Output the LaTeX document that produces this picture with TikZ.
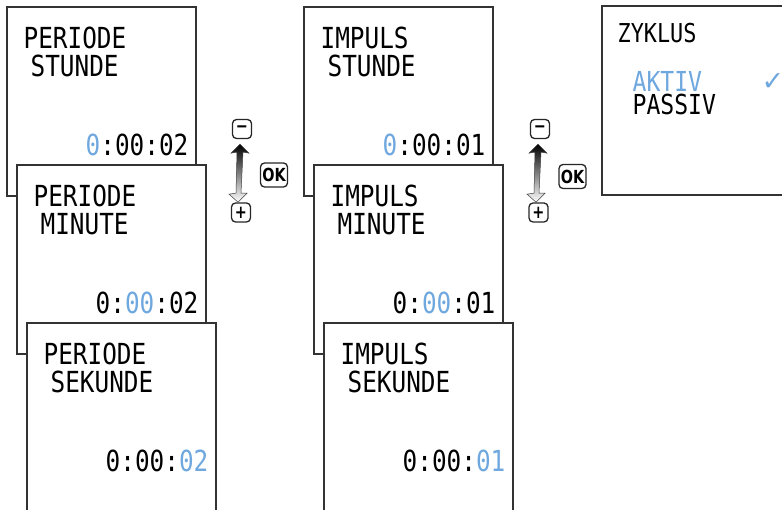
\documentclass[tikz,border=0pt]{standalone}
\usepackage{fontspec}
\usepackage{tikz}
\usetikzlibrary{positioning,calc}
\newfontfamily\lcdfont{DejaVu Sans Mono}[FakeStretch=0.84]
\newfontfamily\keyfont{DejaVu Sans}[FakeStretch=0.8]
\newfontfamily\symfont{DejaVu Sans}
\newcommand\lcdtext{\lcdfont\fontsize{29}{29}\selectfont}
\definecolor{lcdblue}{RGB}{111,168,222}
\tikzset{display/.style={draw=black!80,line width=1.2pt,fill=white,minimum width=189pt,minimum height=189pt,inner sep=0pt}}

\begin{document}
\begin{tikzpicture}[x=1pt,y=-1pt,node distance=158pt]

      \tikzstyle{headline}=[anchor=base west,inner sep=0pt,xshift=17pt,yshift=-42pt,font=\lcdtext]
      \tikzstyle{unitline}=[anchor=base west,inner sep=0pt,xshift=24pt,yshift=-70pt,font=\lcdtext]
      \tikzstyle{readout}=[anchor=base east,inner sep=0pt,xshift=-8pt,yshift=-149pt,font=\lcdtext]
      \tikzstyle{choice}=[anchor=base west,inner sep=0pt,xshift=31pt,text height=20pt,text depth=0pt,
      		  font=\lcdfont\fontsize{27.5}{27.5}\selectfont]
      \tikzstyle{key}=[draw=black!85,line width=1.3pt,rounded corners=4pt,fill=white,
      		  minimum width=19pt,minimum height=19pt,inner sep=0pt,font=\keyfont\bfseries\fontsize{18}{18}\selectfont]
      \tikzstyle{okkey}=[key,minimum width=27pt,minimum height=24pt,font=\keyfont\bfseries\fontsize{18}{18}\selectfont]
      \tikzstyle{updown}=[top color=black,bottom color=white,draw=black!75,line width=0.5pt]

      \useasboundingbox (0,0) rectangle (782,510);

      %PERIODE screens
      \node [display] (p1) at (101.5,101.5) {};
      \node [headline] (p1a) at (p1.north west) {PERIODE};
      \node [unitline] (p1b) at (p1.north west) {STUNDE};
      \node [readout] (p1c) at (p1.north east) {\textcolor{lcdblue}{0}:00:02};

      \node [display,xshift=10pt] (p2) [below of=p1] {};
      \node [headline] (p2a) at (p2.north west) {PERIODE};
      \node [unitline] (p2b) at (p2.north west) {MINUTE};
      \node [readout] (p2c) at (p2.north east) {0:\textcolor{lcdblue}{00}:02};

      \node [display,xshift=10pt] (p3) [below of=p2] {};
      \node [headline] (p3a) at (p3.north west) {PERIODE};
      \node [unitline] (p3b) at (p3.north west) {SEKUNDE};
      \node [readout] (p3c) at (p3.north east) {0:00:\textcolor{lcdblue}{02}};

      %IMPULS screens
      \node [display] (i1) at (398.5,101.5) {};
      \node [headline] (i1a) at (i1.north west) {IMPULS};
      \node [unitline] (i1b) at (i1.north west) {STUNDE};
      \node [readout] (i1c) at (i1.north east) {\textcolor{lcdblue}{0}:00:01};

      \node [display,xshift=10pt] (i2) [below of=i1] {};
      \node [headline] (i2a) at (i2.north west) {IMPULS};
      \node [unitline] (i2b) at (i2.north west) {MINUTE};
      \node [readout] (i2c) at (i2.north east) {0:\textcolor{lcdblue}{00}:01};

      \node [display,xshift=10pt] (i3) [below of=i2] {};
      \node [headline] (i3a) at (i3.north west) {IMPULS};
      \node [unitline] (i3b) at (i3.north west) {SEKUNDE};
      \node [readout] (i3c) at (i3.north east) {0:00:\textcolor{lcdblue}{01}};

      %ZYKLUS screen
      \node [display] (z1) at (696.5,100.5) {};
      \node [headline,yshift=5pt,xshift=-1pt,font=\lcdfont\fontsize{26}{26}\selectfont] (z1a) at (z1.north west) {ZYKLUS};
      \node [choice,yshift=-86pt,text=lcdblue] (z1b) at (z1.north west) {AKTIV};
      \node [choice,yshift=-109pt] (z1c) at (z1.north west) {PASSIV};
      \node [anchor=base west,inner sep=0pt,xshift=160pt,yshift=-85pt,text=lcdblue,
             font=\symfont\fontsize{27}{27}\selectfont] (z1d) at (z1.north west) {✓};

      %keys, first pair
      \node [key] (minA) at (242,129) {−};
      \node [key] (plusA) at (241,212.5) {+};
      \node [okkey] (okA) at (274,175) {OK};
      \path [updown] ($(minA.south)+(-2,5)$) -- ++(9,9) -- ++(-6,-1) -- ++(-2,41) -- ++(6,0)
            -- ++(-9,9) -- ++(-9,-8) -- ++(7,-1) -- ++(1,-41) -- ++(-6,1) -- cycle;

      %keys, second pair
      \node [key] (minB) at (540,129) {−};
      \node [key] (plusB) at (538.5,212.5) {+};
      \node [okkey] (okB) at (572.5,176.5) {OK};
      \path [updown] ($(minB.south)+(-2,5)$) -- ++(9,9) -- ++(-6,-1) -- ++(-2,41) -- ++(6,0)
            -- ++(-9,9) -- ++(-9,-8) -- ++(7,-1) -- ++(1,-41) -- ++(-6,1) -- cycle;

\end{tikzpicture}
\end{document}
